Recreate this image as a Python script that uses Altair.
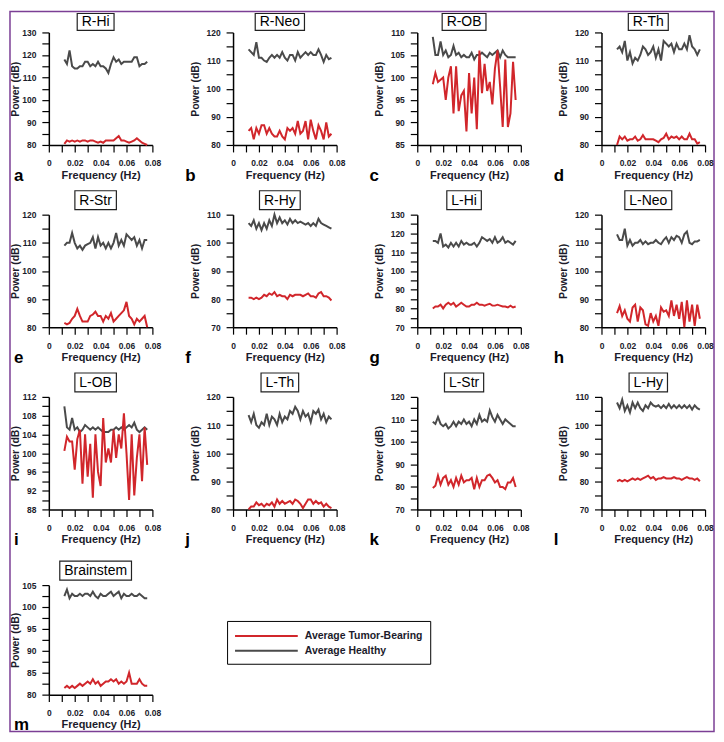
import altair as alt
import pandas as pd

# ---------------- data ----------------
freq = [0.012, 0.014, 0.016, 0.018, 0.020, 0.022, 0.024, 0.026, 0.028, 0.030,
        0.032, 0.034, 0.036, 0.038, 0.040, 0.042, 0.044, 0.046, 0.048, 0.050,
        0.052, 0.054, 0.056, 0.058, 0.060, 0.062, 0.064, 0.066, 0.068, 0.070,
        0.072, 0.074, 0.076]

panel_names = ["R-Hi", "R-Neo", "R-OB", "R-Th", "R-Str", "R-Hy", "L-Hi", "L-Neo",
               "L-OB", "L-Th", "L-Str", "L-Hy", "Brainstem"]
panel_letters = ["a", "b", "c", "d", "e", "f", "g", "h", "i", "j", "k", "l", "m"]
y_domains = [[80, 130], [80, 120], [85, 110], [80, 120], [80, 120], [70, 110], [70, 130],
             [80, 120], [88, 112], [80, 120], [70, 120], [70, 110], [80, 105]]
y_major = [10, 10, 5, 10, 10, 10, 10, 10, 4, 10, 10, 10, 5]
y_minor = [5, 5, 2.5, 5, 5, 5, 5, 5, 2, 5, 5, 5, 2.5]

series_names = ["Average Tumor-Bearing", "Average Healthy"]

r_hi_healthy = [118, 116, 122, 115, 114, 114, 115, 115, 117, 117, 115, 116, 115, 117, 115, 115, 114,
                112, 116, 119, 117, 118, 116, 117, 117, 117, 117, 119, 119, 115, 116, 116, 117]
r_hi_tumor = [80.5, 82, 81.5, 82, 81.5, 82, 81.5, 82, 82, 81.5, 82, 82, 81.5, 81, 81.5, 81, 82,
              82, 82, 82, 83, 84, 82, 82, 81.5, 81, 81.5, 82, 83, 82, 81, 80.5, 80]

r_neo_healthy = [114, 113, 112, 116.5, 111, 111, 110, 109.5, 111, 112, 111, 112, 111, 113, 111, 110, 112,
                 112, 110, 113, 111, 112, 113, 112, 113, 112, 112, 114, 112, 109.5, 112, 110.5, 111]
r_neo_tumor = [85, 86, 82, 86, 84, 87, 87, 84, 86, 84, 83, 83, 85, 83, 82, 86, 85,
               86, 84, 88.5, 84, 85, 88.5, 82, 89, 85, 82, 87, 85, 82, 88, 83, 84]

r_ob_healthy = [109, 105, 105, 108, 105, 106, 104.5, 105, 107, 105, 105.5, 104.5, 105, 104.5, 104.5, 105.5, 104,
                105, 105, 105.5, 105, 104.5, 105.5, 105, 105.5, 106, 104.5, 106, 105, 104.5, 104.5, 104.5, 104.5]
r_ob_tumor = [98.5, 101, 99, 99.5, 100, 95, 100, 102.5, 92, 102.5, 92.5, 96, 97, 88, 101, 92, 100,
              88.5, 106, 96.5, 103, 97, 99, 94, 102, 106, 98, 89, 104, 89, 92, 103.5, 95]

r_th_healthy = [114, 115, 113, 117, 110, 113, 109, 111, 110, 112, 115, 114, 112, 113, 115, 111, 114,
                110, 117, 116, 115, 116, 113, 116, 114, 114, 116, 114, 119, 115, 114, 112, 114]
r_th_tumor = [80, 83, 82, 83, 81.5, 82, 82, 83, 81.5, 82, 83.5, 82, 82, 82, 82, 81.5, 81,
              82, 82.5, 84, 82, 83, 82.5, 83, 82, 83, 82, 82, 84, 82, 82, 80.5, 81]

r_str_healthy = [109, 110, 110, 113.5, 110, 108, 109, 107.5, 109, 109.5, 110, 112, 108, 112, 109, 110, 108,
                 110, 108, 110, 113.5, 109, 111, 109, 113, 112, 111, 112, 109, 111, 108, 111, 111]
r_str_tumor = [81.5, 81, 81.5, 83, 84, 86.5, 84, 82, 82, 82, 84, 84.5, 85.5, 84, 84, 82, 84,
               83, 85, 82, 83, 84, 85, 86, 89, 84, 83, 81, 83, 82, 83, 84, 80]

r_hy_healthy = [107, 106, 108, 105, 107, 104.5, 107, 105, 108, 106, 110, 107, 109, 107, 108, 106.5, 108.5,
                107, 108, 107, 107.5, 107, 106.5, 107, 106, 107, 106, 108.5, 107, 106.5, 106, 105.5, 105]
r_hy_tumor = [80.5, 80.5, 80, 80.5, 80, 80.5, 81.5, 81, 82, 81.5, 82.5, 81, 81.5, 81, 81, 80, 81.5,
              81, 81.5, 81.5, 81.5, 81, 81.5, 82, 81, 81, 80.5, 82, 82.5, 81, 81, 80.5, 79.5]

l_hi_healthy = [116, 116, 115, 120, 113, 114, 112.5, 115, 113, 115, 113, 116, 114, 115, 114, 114, 115,
                113, 115, 118, 117, 116, 117, 115, 118, 115, 116, 118, 115, 116, 115, 114, 116]
l_hi_tumor = [80, 81, 81, 82, 80, 82, 83, 82, 83, 81, 82, 83, 82, 81, 81, 82, 82,
              83, 82, 82, 81.5, 82, 82.5, 81.5, 81.5, 82, 81.5, 81, 81, 80.5, 81.5, 80.5, 81]

l_neo_healthy = [113, 111, 111, 115, 109, 111, 109, 110, 110, 111, 109.5, 110.5, 109.5, 110, 110, 111, 110,
                 109.5, 111, 112, 110, 112, 111, 112.5, 112, 110, 113, 114, 110, 109.5, 110.5, 110.5, 111]
l_neo_tumor = [85, 87.5, 84, 86, 83, 82, 87, 88, 82, 87, 86, 81, 80.5, 85, 82, 84, 80.5,
               87, 85.5, 86, 84, 89.5, 84, 88, 83, 89, 80, 89.5, 82, 88, 80.5, 88, 83]

l_ob_healthy = [110, 105.5, 105, 107.5, 105, 105.5, 104.5, 105, 106, 105.5, 105, 105.5, 105, 105.5, 105, 104.5, 104.5,
                104.5, 105, 105, 105.5, 105, 105.5, 105, 105.5, 106, 105.5, 106.5, 105, 104.5, 105, 105.5, 105]
l_ob_tumor = [100.5, 103.5, 102.5, 102.5, 96.5, 103, 105, 93.5, 104, 95, 102, 90.5, 104, 96, 93, 107.5, 98,
              101, 98, 105, 99, 104, 101, 108.5, 100, 90, 104, 91, 99, 104, 94, 105.5, 97.5]

l_th_healthy = [113.5, 111, 114, 110, 109, 111, 110, 114, 110, 113, 112, 110, 114, 111, 113, 112, 115,
                114, 116.5, 115, 112, 115, 113, 114, 111, 115, 114, 115.5, 112, 114, 111, 113, 112]
l_th_tumor = [80, 81, 81, 82.5, 81.5, 82, 81, 82, 81.5, 82.5, 81, 83.5, 82, 83, 82, 82.5, 83,
              82, 83.5, 83, 82, 80.5, 82, 83.5, 83.5, 82, 83, 82, 82.5, 81, 82, 81, 80.5]

l_str_healthy = [109, 108, 111, 108, 107, 108, 106, 107, 109, 107, 109, 108, 110, 108, 109, 107, 110,
                 108, 112, 109, 110, 109, 114, 111, 109, 112, 110, 108, 110, 109, 108, 107, 107]
l_str_tumor = [79.5, 80.5, 85, 81, 84, 85, 81, 83, 80, 84, 81, 85, 82, 83, 83, 84, 79,
               84, 80, 83, 83, 85, 85.5, 84, 82, 83, 80, 80, 79, 82, 82, 84, 80]

l_hy_healthy = [108, 106, 109, 105, 107, 104.5, 108, 106, 108, 106, 105, 107, 106, 108, 107, 106.5, 107,
                106, 107, 106, 107.5, 106, 107, 106, 107, 106, 107, 106, 107, 105.5, 107, 106, 105.5]
l_hy_tumor = [80, 80.5, 80, 80.5, 80, 80.5, 81, 80.5, 81, 80.5, 81, 81.5, 82, 81, 81.5, 80.5, 81,
              81, 81.5, 81, 81, 81, 81.5, 81, 81, 80.5, 81, 81.5, 81, 81, 80.5, 81, 80]

brainstem_healthy = [102.5, 104, 102, 103, 102.5, 102.5, 103, 102.5, 103, 103, 102.5, 103.5, 102.5, 102, 103, 102.5, 102.5,
                     103, 103.5, 102.5, 103, 103.5, 102, 103, 102.5, 102.5, 103, 102.5, 102.5, 103, 102.5, 102, 102]
brainstem_tumor = [81.5, 82, 81.5, 82, 81.5, 82, 82.5, 82, 82.5, 83, 82.5, 83.5, 82.5, 83, 82, 82.5, 83,
                   83, 83.5, 83, 83.5, 82.5, 83, 82.5, 83, 85, 82.5, 82.5, 82.5, 83.5, 82.5, 82, 82]

healthy_series = [r_hi_healthy, r_neo_healthy, r_ob_healthy, r_th_healthy, r_str_healthy, r_hy_healthy,
                  l_hi_healthy, l_neo_healthy, l_ob_healthy, l_th_healthy, l_str_healthy, l_hy_healthy,
                  brainstem_healthy]
tumor_series = [r_hi_tumor, r_neo_tumor, r_ob_tumor, r_th_tumor, r_str_tumor, r_hy_tumor,
                l_hi_tumor, l_neo_tumor, l_ob_tumor, l_th_tumor, l_str_tumor, l_hy_tumor,
                brainstem_tumor]

x_ticks = [0, 0.01, 0.02, 0.03, 0.04, 0.05, 0.06, 0.07, 0.08]

# ---------------- style ----------------
FONT = "Liberation Sans"
RED = "#d1262b"
GRAY = "#4a4a4a"
INK = "#1b1b2b"
PURPLE = "#7b3f95"
W, H = 104, 113
ROW_PITCH = 183
COL_PITCH = 185
BOTTOM_H = 116       # height of the last (Brainstem) cell
BOTTOM_TOP = 6       # its plot area starts a little lower

CHAR_W = {'R': 0.722, '-': 0.333, 'H': 0.722, 'i': 0.222, 'N': 0.722, 'e': 0.556, 'o': 0.556,
          'O': 0.778, 'B': 0.667, 'T': 0.611, 'h': 0.556, 'S': 0.667, 't': 0.278, 'r': 0.333,
          'y': 0.5, 'L': 0.556, 'a': 0.556, 'n': 0.556, 's': 0.5, 'm': 0.833}


def text_width(s, size):
    return sum(CHAR_W.get(c, 0.6) for c in s) * size


color_scale = alt.Scale(domain=series_names, range=[RED, GRAY])
legend = alt.Legend(title=None, orient="none", legendX=179, legendY=591,
                    symbolType="M-1,0H8", symbolSize=196, symbolStrokeWidth=2,
                    labelFont=FONT, labelFontSize=10.5, labelFontWeight="bold", labelColor=INK,
                    strokeColor="black", fillColor="white", padding=7, rowPadding=1,
                    labelOffset=55)

x_label_expr = ("round(datum.value*100) % 2 == 0 ? "
                "(datum.value == 0 ? '0' : format(datum.value, '.2f')) : ''")


def make_panel(i, col, row):
    name = panel_names[i]
    last = (i == 12)
    ph = BOTTOM_H if last else H
    y0 = BOTTOM_TOP if last else 0
    df = pd.DataFrame({
        "freq": freq + freq,
        "power": tumor_series[i] + healthy_series[i],
        "series": [series_names[0]] * len(freq) + [series_names[1]] * len(freq),
    })
    ymin, ymax = y_domains[i]
    major, minor = y_major[i], y_minor[i]
    n = int(round((ymax - ymin) / minor))
    y_vals = [ymin + k * minor for k in range(n + 1)]
    y_label_expr = (f"abs(datum.value/{major} - round(datum.value/{major})) < 0.001 "
                    f"? datum.label : ''")
    x_enc = alt.X("freq:Q", scale=alt.Scale(domain=[0, 0.08], nice=False, zero=False),
                  axis=alt.Axis(values=x_ticks, labelExpr=x_label_expr, title="Frequency (Hz)",
                                labelFlush=False, labelOverlap=False))
    y_scale = alt.Scale(domain=[ymin, ymax], nice=False, zero=False)
    if last:
        y_scale = alt.Scale(domain=[ymin, ymax], nice=False, zero=False, range=[ph, y0])
    y_enc = alt.Y("power:Q", scale=y_scale,
                  axis=alt.Axis(values=y_vals, labelExpr=y_label_expr, title="Power (dB)",
                                labelFlush=False, labelOverlap=False,
                                titlePadding=1 if col == 0 else 6))
    c_enc = alt.Color("series:N", scale=color_scale, legend=legend)

    base = alt.Chart(df)
    healthy_line = base.transform_filter(alt.datum.series == series_names[1]).mark_line(
        strokeWidth=2).encode(x=x_enc, y=y_enc, color=c_enc)
    tumor_line = base.transform_filter(alt.datum.series == series_names[0]).mark_line(
        strokeWidth=2).encode(x=x_enc, y=y_enc, color=c_enc)

    tdf = pd.DataFrame({"label": [name]})
    bw = text_width(name, 14) + 9
    cx = W / 2 - 5
    top, bot = (-19, -2) if row == 0 else (-24 + y0, -5 + y0)
    box = alt.Chart(tdf).mark_rect(fill="white", stroke="#222222", strokeWidth=1.2).encode(
        x=alt.value(cx - bw / 2), x2=alt.value(cx + bw / 2), y=alt.value(top), y2=alt.value(bot))
    ttl = alt.Chart(tdf).mark_text(font=FONT, fontSize=14, color="black", align="center",
                                   baseline="middle").encode(
        text="label:N", x=alt.value(cx), y=alt.value((top + bot) / 2 + 0.5))

    ldf = pd.DataFrame({"letter": [panel_letters[i]]})
    lx = -35 if col == 0 else -48
    let = alt.Chart(ldf).mark_text(font=FONT, fontSize=17, fontWeight="bold", color="black",
                                   align="left", baseline="middle").encode(
        text="letter:N", x=alt.value(lx), y=alt.value(ph + 31))

    layers = [healthy_line, tumor_line, box, ttl, let]
    if i == 0:
        fdf = pd.DataFrame({"f": [0]})
        frame = alt.Chart(fdf).mark_rect(filled=False, stroke=PURPLE, strokeWidth=1.5).encode(
            x=alt.value(-39), x2=alt.value(-39 + 707), y=alt.value(-21), y2=alt.value(702))
        layers = [frame] + layers
    return alt.layer(*layers).properties(width=W, height=ph)


panels = [make_panel(k, k % 4, k // 4) for k in range(13)]

chart = alt.concat(
    *panels, columns=4,
    spacing=alt.RowColnumber(row=ROW_PITCH - H, column=COL_PITCH - W), bounds="flush"
).properties(
    padding=0, background="white"
).configure_view(stroke="transparent").configure_axis(
    grid=False, domainColor="black", domainWidth=1.5, tickColor="black", tickWidth=1.2,
    tickSize=7, labelFont=FONT, labelFontSize=8.5, labelFontWeight="bold", labelColor=INK,
    titleFont=FONT, titleFontWeight="bold", titleColor=INK
).configure_axisX(titleFontSize=11, titlePadding=2, labelPadding=7).configure_axisY(
    titleFontSize=10.5, labelPadding=6
).resolve_scale(color="shared")

chart.save("out.html", embed_options={"renderer": "svg", "actions": False})
